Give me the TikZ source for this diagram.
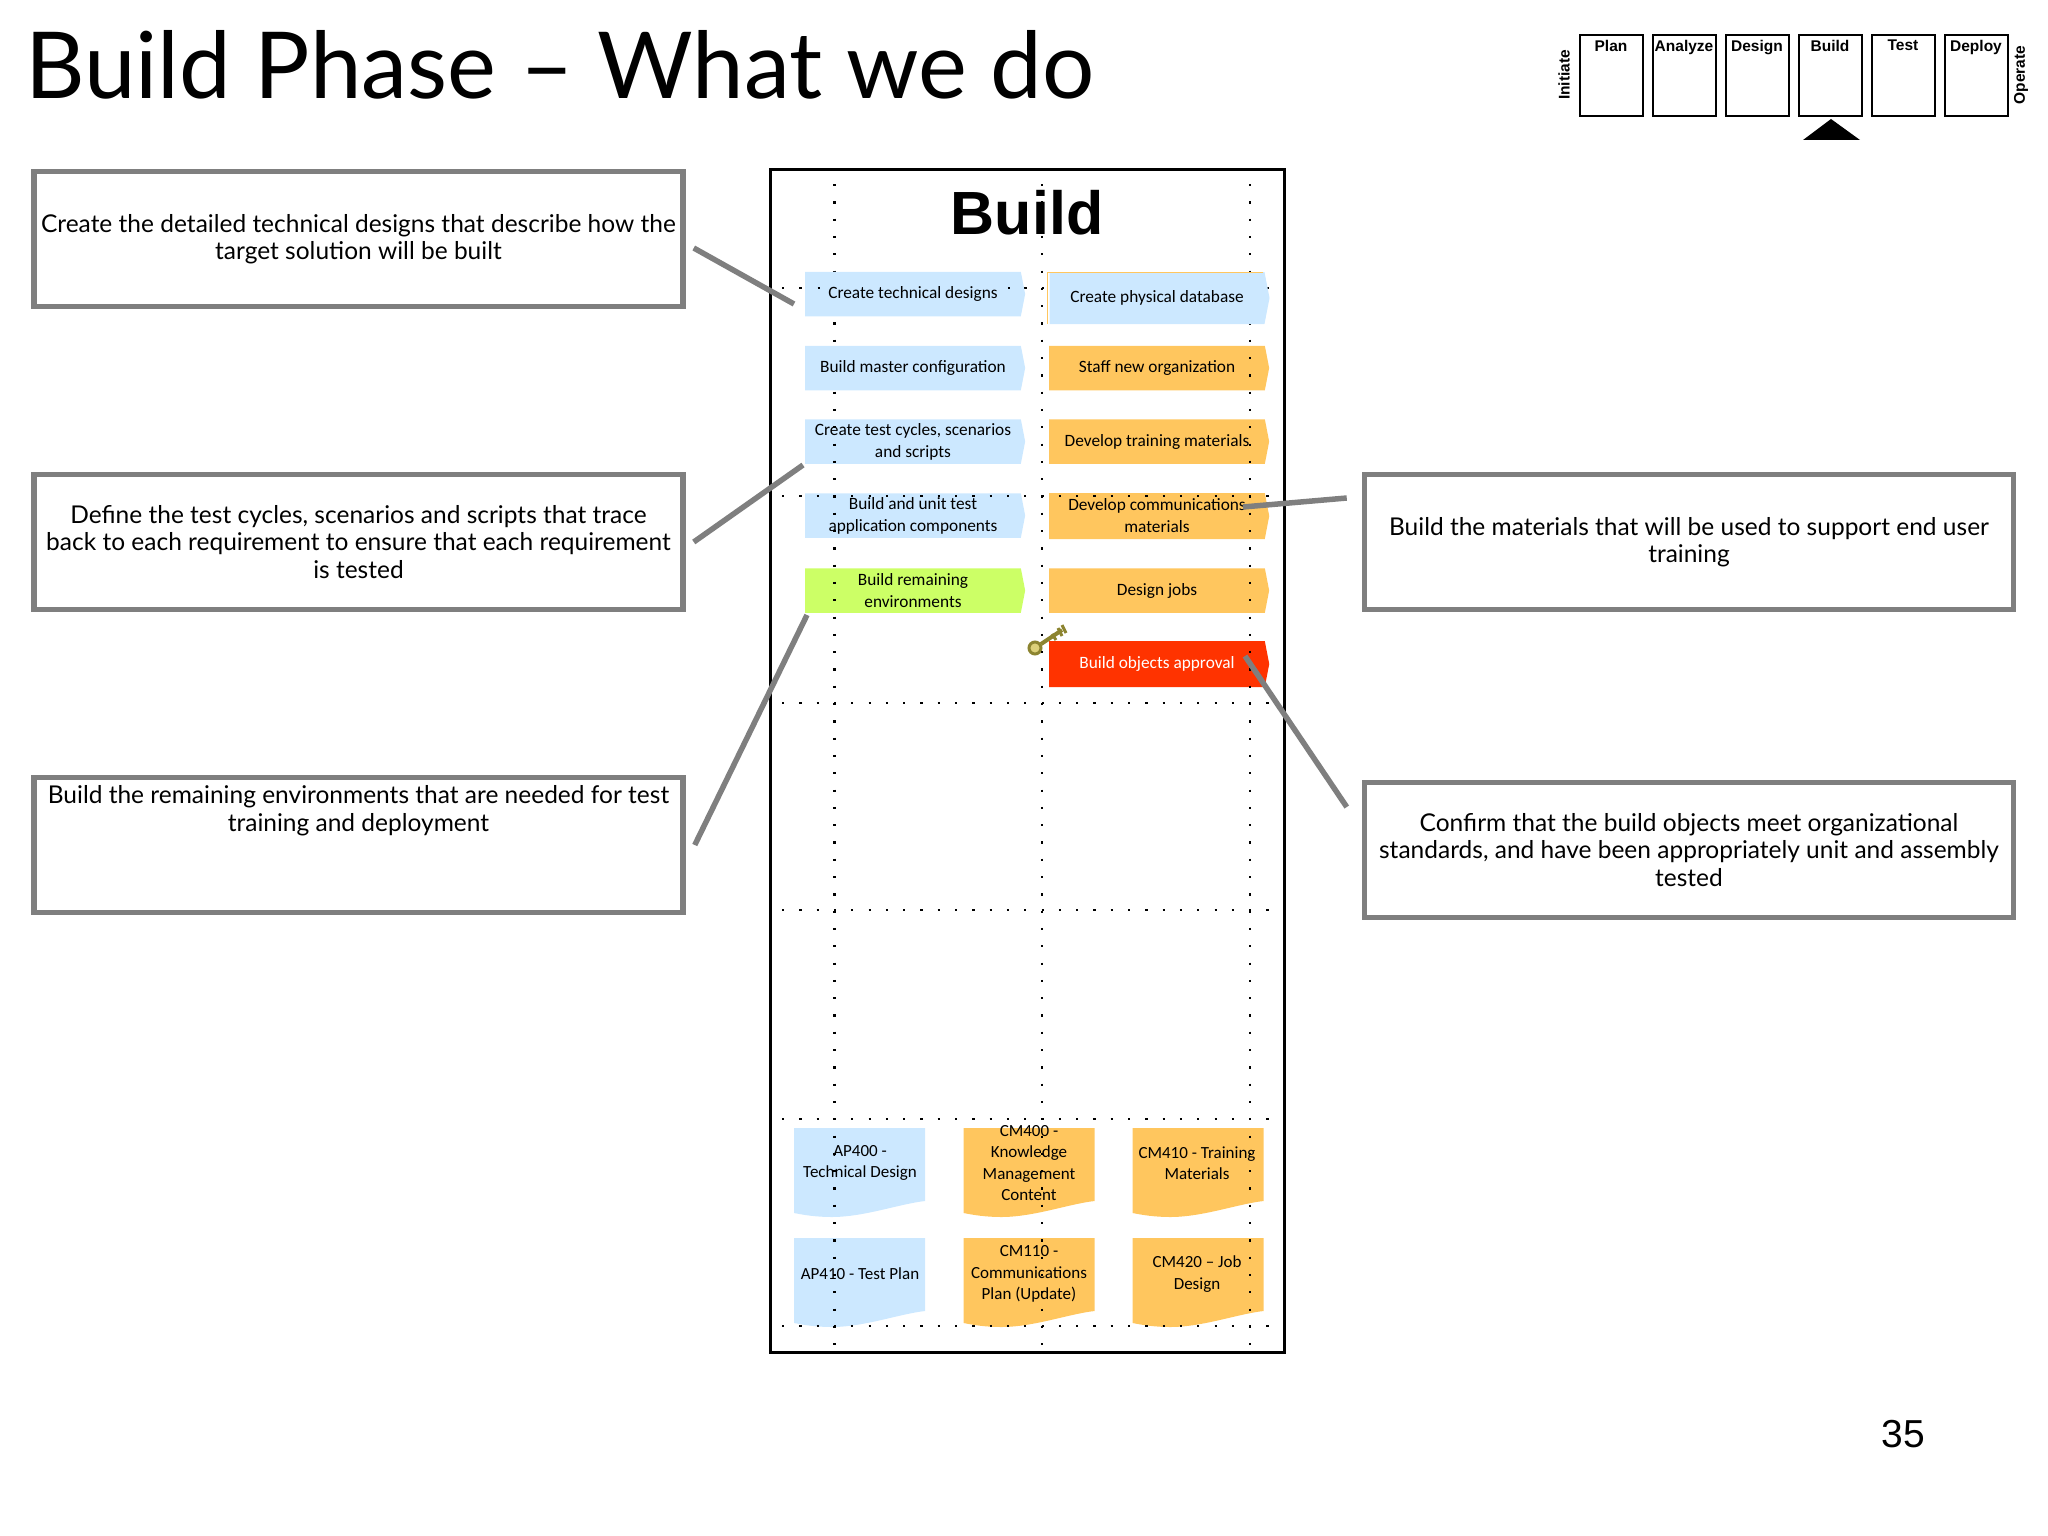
\documentclass[tikz,border=0pt]{standalone}
\usepackage{fontspec}
\setmainfont{Lato}
\newfontfamily\chartfont{Carlito}
\newfontfamily\arialfont{Liberation Sans}
\usetikzlibrary{shapes.symbols}
\definecolor{paleblue}{HTML}{CCE8FF}
\definecolor{paleorange}{HTML}{FFC65E}
\definecolor{palegreen}{HTML}{CCFF66}
\definecolor{hotred}{HTML}{FF3300}
\definecolor{leadergray}{HTML}{7F7F7F}
\definecolor{keyolive}{HTML}{8C8430}
\definecolor{keygold}{HTML}{DCD07A}
\begin{document}
\begin{tikzpicture}[
		x=1pt, y=-1pt,
		callout/.style={draw=leadergray, line width=5.5pt, fill=white, minimum width=649pt, minimum height=135pt, align=center, inner sep=0pt, font=\fontsize{24.5}{27.4}\selectfont},
		leader/.style={leadergray, line width=5.5pt},
		activity/.style={signal, signal to=east, signal pointer angle=158, fill=#1, minimum width=220pt, minimum height=44.5pt, inner sep=0pt, align=center, font=\chartfont\fontsize{17.3}{22}\selectfont},
		doctext/.style={align=center, inner sep=0pt, font=\chartfont\fontsize{17}{21.5}\selectfont},
		phasebox/.style={draw, line width=2pt, minimum width=63pt, minimum height=81pt, inner sep=0pt},
		phaselabel/.style={anchor=north, inner sep=0pt, font=\arialfont\bfseries\fontsize{15.5}{18}\selectfont},
		griddot/.style={line width=2.2pt, dash pattern=on 2.2pt off 15.1pt}
	]
	\useasboundingbox (0,0) rectangle (2048,1536);

	\node[anchor=west, inner sep=0pt, font=\fontsize{92.4}{100}\selectfont] (title) at (25,65) {Build Phase -- What we do};

	% phase strip
	\foreach \name [count=\i from 0] in {Plan,Analyze,Design,Build,Test,Deploy} {
		\node[phasebox] (phase\i) at (1611+73*\i,75.5) {};
		\node[phaselabel] (phasename\i) at ([yshift=-6pt]phase\i.north) {\name};
	}
	\node[rotate=90, inner sep=0pt, font=\arialfont\bfseries\fontsize{15.5}{18}\selectfont] (initiate) at (1564,75) {Initiate};
	\node[rotate=90, inner sep=0pt, font=\arialfont\bfseries\fontsize{15.5}{18}\selectfont] (operate) at (2021,75) {Operate};
	\fill (1803,140) -- (1831,119) -- (1860,140) -- cycle;

	% chart frame
	\node[draw, line width=3pt, minimum width=514pt, minimum height=1183pt, inner sep=0pt] (frame) at (1027.5,760.5) {};
	\node[inner sep=0pt, font=\arialfont\bfseries\fontsize{61}{64}\selectfont] (buildtitle) at (1027,213) {Build};

	% activities under the grid
	\node[activity=paleblue] (testcycles) at (913,441.5) {Create test cycles, scenarios\\and scripts};
	\node[activity=paleblue] (unittest) at (913,515.5) {Build and unit test\\application components};
	\node[activity=palegreen] (environments) at (913,590.5) {Build remaining\\environments};
	\node[activity=paleorange] (staff) at (1157,368) {Staff new organization};
	\node[activity=paleorange] (training) at (1157,441.5) {Develop training materials};
	\node[activity=paleorange, minimum height=46pt] (comms) at (1157,516) {Develop communications\\materials};
	\node[activity=paleorange] (jobs) at (1157,590.5) {Design jobs};
	\node[activity=hotred, text=white, minimum height=46pt] (approval) at (1157,664) {Build objects approval};

	% key
	\draw[keyolive, line width=4pt] (1041,644) -- (1062,630);
	\draw[keyolive, line width=3pt] (1052,634) -- (1056,640) (1058,628) -- (1062,636) (1062,625) -- (1066,633);
	\draw[keyolive, line width=3pt, fill=keygold] (1035,648) circle (6pt);

	% documents
	\foreach \xleft/\ytop/\col in {794/1128/paleblue,963.5/1128/paleorange,1132.5/1128/paleorange,794/1238/paleblue,963.5/1238/paleorange,1132.5/1238/paleorange} {
		\fill[\col, shift={(\xleft,\ytop)}] (0,0) -- (131,0) -- (131,73) .. controls (105,76) and (70,89) .. (38,89) .. controls (22,89) and (10,87) .. (0,85) -- cycle;
	}
	\node[doctext] (ap400) at (860,1163) {AP400 -\\Technical Design};
	\node[doctext] (cm400) at (1029,1163) {CM400 -\\Knowledge\\Management\\Content};
	\node[doctext] (cm410) at (1197,1163) {CM410 - Training\\Materials};
	\node[doctext] (ap410) at (860,1274) {AP410 - Test Plan};
	\node[doctext] (cm110) at (1029,1274) {CM110 -\\Communications\\Plan (Update)};
	\node[doctext] (cm420) at (1197,1274) {CM420 – Job\\Design};

	% dotted grid
	\foreach \xdot in {834.5,1042,1250}
		\draw[griddot] (\xdot,184) -- (\xdot,1345);
	\foreach \ydot in {288,496,703,910,1119,1326}
		\draw[griddot] (782,\ydot) -- (1272,\ydot);

	% activities over the grid
	\node[activity=paleblue] (techdesign) at (913,294) {Create technical designs};
	\node[activity=paleblue] (masterconfig) at (913,368) {Build master configuration};
	\node[activity=paleblue, minimum height=52pt] (physicaldb) at (1157,298) {Create physical database};
	\draw[paleorange, line width=1pt] (1047.5,324) -- (1047.5,272) -- (1263,272);
	\draw[griddot] (817.6,288) -- (820,288) (1007.9,288) -- (1027,288);

	% callouts
	\node[callout] (designbox) at (358.5,239) {Create the detailed technical designs that describe how the\\target solution will be built};
	\node[callout] (testbox) at (358.5,542) {Define the test cycles, scenarios and scripts that trace\\back to each requirement to ensure that each requirement\\is tested};
	\node[callout, text depth=73pt] (envbox) at (358.5,845) {Build the remaining environments that are needed for test\\training and deployment};
	\node[callout] (materialbox) at (1689,542) {Build the materials that will be used to support end user\\training};
	\node[callout] (approvalbox) at (1689,850) {Confirm that the build objects meet organizational\\standards, and have been appropriately unit and assembly\\tested};

	\coordinate (designend) at (794,304);
	\coordinate (testend) at (803,465);
	\coordinate (envend) at (807,615);
	\coordinate (materialend) at (1243,507);
	\coordinate (approvalend) at (1245,656);
	\draw[leader] ([shift={(8pt,-9pt)}]designbox.east) -- (designend);
	\draw[leader] ([xshift=8pt]testbox.east) -- (testend);
	\draw[leader] ([xshift=9pt]envbox.east) -- (envend);
	\draw[leader] ([shift={(-15pt,44pt)}]materialbox.west) -- (materialend);
	\draw[leader] ([shift={(-15pt,43pt)}]approvalbox.west) -- (approvalend);

	\node[inner sep=0pt, font=\arialfont\fontsize{39}{42}\selectfont] (pagenum) at (1903,1434) {35};
\end{tikzpicture}
\end{document}
